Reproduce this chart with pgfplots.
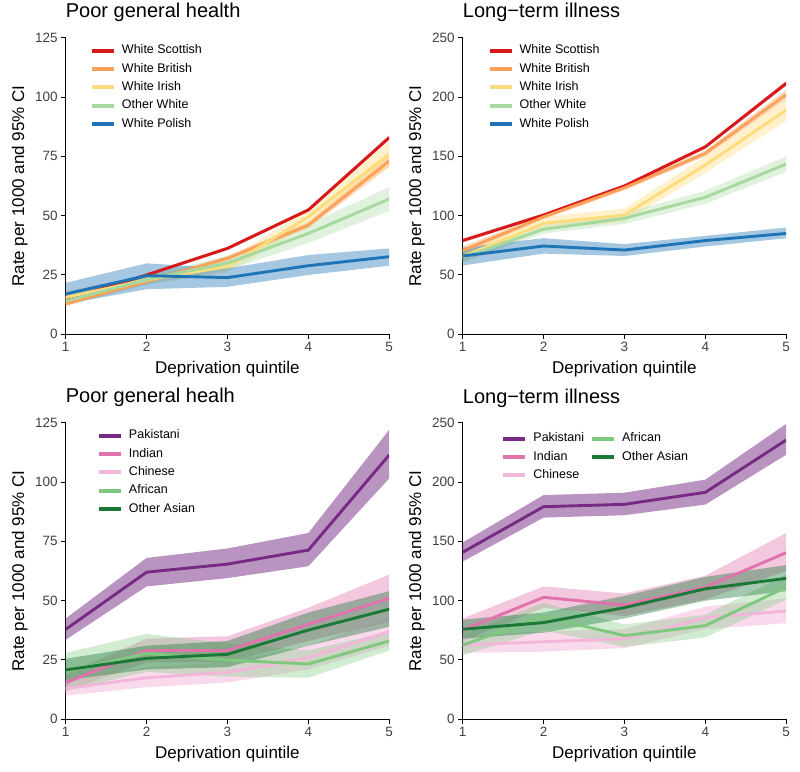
\documentclass[border=0pt]{standalone}
\usepackage{pgfplots}
\pgfplotsset{compat=1.18}
\usepackage{pgfplotstable}
\usepgfplotslibrary{fillbetween}
\usepackage{fontspec}
\setmainfont{Liberation Sans}

\definecolor{cWS}{HTML}{D7191C}
\definecolor{cWB}{HTML}{FDA05A}
\definecolor{cWI}{HTML}{FEDC7C}
\definecolor{cOW}{HTML}{A6D99E}
\definecolor{cWP}{HTML}{1F74B6}
\definecolor{cPak}{HTML}{762A83}
\definecolor{cInd}{HTML}{E072AC}
\definecolor{cChi}{HTML}{F1B6DA}
\definecolor{cAfr}{HTML}{7FC97F}
\definecolor{cOA}{HTML}{1B7837}

% x y lo hi
\pgfplotstableread{
x y lo hi
1 14.5 13.8 15.2
2 25.0 24.3 25.7
3 36.2 35.5 36.9
4 52.4 51.6 53.2
5 82.9 81.9 83.9
}\aWS
\pgfplotstableread{
x y lo hi
1 12.8 12.0 13.6
2 22.2 21.5 23.0
3 32.0 31.0 33.0
4 46.0 44.8 47.5
5 73.0 70.5 75.5
}\aWB
\pgfplotstableread{
x y lo hi
1 15.5 13.0 18.0
2 23.0 21.0 25.0
3 28.5 26.0 31.0
4 49.5 46.0 53.0
5 76.0 71.0 81.0
}\aWI
\pgfplotstableread{
x y lo hi
1 14.0 12.0 16.0
2 23.0 21.0 25.0
3 30.0 27.0 33.0
4 42.5 38.5 46.5
5 57.0 52.0 62.0
}\aOW
\pgfplotstableread{
x y lo hi
1 17.0 12.8 21.7
2 24.7 19.0 29.9
3 23.9 20.0 27.8
4 28.9 25.0 33.4
5 32.7 28.9 36.2
}\aWP

\pgfplotstableread{
x y lo hi
1 79.0 77.5 80.5
2 100.5 99.0 102.0
3 125.0 123.5 126.5
4 158.0 156.5 159.5
5 211.5 209.5 213.5
}\bWS
\pgfplotstableread{
x y lo hi
1 70.5 67.0 74.0
2 99.0 97.0 101.0
3 123.5 121.5 125.5
4 152.5 150.0 155.0
5 202.0 198.0 206.0
}\bWB
\pgfplotstableread{
x y lo hi
1 65.5 60.0 71.0
2 93.5 88.0 99.0
3 100.5 95.0 106.0
4 142.7 136.0 150.0
5 189.0 180.0 198.0
}\bWI
\pgfplotstableread{
x y lo hi
1 65.0 61.0 69.0
2 88.5 85.0 92.0
3 97.8 93.0 102.0
4 115.5 110.0 121.0
5 143.5 137.0 150.0
}\bOW
\pgfplotstableread{
x y lo hi
1 66.0 58.0 73.0
2 74.4 68.0 81.0
3 71.0 66.0 76.0
4 79.0 74.0 83.0
5 85.0 81.0 90.0
}\bWP

\pgfplotstableread{
x y lo hi
1 37.9 33.5 42.5
2 62.0 56.0 68.0
3 65.4 59.5 72.0
4 71.3 64.5 78.5
5 111.4 101.5 122.0
}\cPakT
\pgfplotstableread{
x y lo hi
1 15.4 12.0 19.0
2 29.0 24.0 34.0
3 29.0 24.0 35.0
4 40.0 33.0 47.0
5 51.0 41.0 61.0
}\cIndT
\pgfplotstableread{
x y lo hi
1 13.0 10.0 16.0
2 17.5 13.5 22.0
3 19.8 15.5 24.0
4 26.0 21.0 31.0
5 37.0 31.0 43.0
}\cChiT
\pgfplotstableread{
x y lo hi
1 20.0 12.0 28.0
2 27.8 20.0 36.0
3 25.0 18.0 32.0
4 23.3 17.5 29.0
5 33.0 29.0 37.0
}\cAfrT
\pgfplotstableread{
x y lo hi
1 20.8 16.5 25.5
2 25.7 21.0 31.0
3 27.4 22.0 33.0
4 37.6 31.0 45.0
5 46.4 39.0 54.0
}\cOAT

\pgfplotstableread{
x y lo hi
1 140.8 133.0 149.0
2 179.2 170.0 189.0
3 181.2 172.0 191.0
4 191.3 181.0 202.0
5 235.4 223.0 249.0
}\dPakT
\pgfplotstableread{
x y lo hi
1 75.3 66.0 85.0
2 102.8 94.0 112.0
3 96.3 87.0 106.0
4 111.3 101.0 121.0
5 140.4 125.0 157.0
}\dIndT
\pgfplotstableread{
x y lo hi
1 62.6 56.0 70.0
2 65.4 57.0 74.0
3 67.7 60.0 76.0
4 85.6 76.0 95.0
5 91.3 81.0 102.0
}\dChiT
\pgfplotstableread{
x y lo hi
1 62.6 54.0 72.0
2 86.5 75.0 98.0
3 70.5 61.0 80.0
4 79.0 69.0 88.0
5 111.3 101.0 122.0
}\dAfrT
\pgfplotstableread{
x y lo hi
1 75.9 68.0 84.0
2 81.5 73.0 90.0
3 94.1 85.0 104.0
4 110.0 100.0 120.0
5 118.8 108.0 130.0
}\dOAT

% band: table, colour, opacity, id
\newcommand{\band}[4]{%
  \addplot[draw=none, name path=lo#4, forget plot] table[x=x,y=lo]{#1};
  \addplot[draw=none, name path=hi#4, forget plot] table[x=x,y=hi]{#1};
  \addplot[fill=#2, fill opacity=#3, draw=none, forget plot] fill between[of=lo#4 and hi#4];
}
\newcommand{\mline}[2]{%
  \addplot[#2, line width=2.9pt, forget plot] table[x=x,y=y]{#1};
}

\pgfplotsset{
  panel/.style={
    scale only axis, width=323.5pt, height=296.6pt,
    xmin=1, xmax=5, xtick={1,2,3,4,5}, ymin=0,
    axis x line*=bottom, axis y line*=left,
    xtick pos=left, ytick pos=left,
    axis line style={black, line width=1.3pt},
    tick style={black, line width=1pt},
    tick align=outside, major tick length=4.5pt,
    ticklabel style={font=\fontsize{13.5}{16}\selectfont, text=black!75},
    /pgf/number format/assume math mode=true,
    xlabel={Deprivation quintile},
    ylabel={Rate per 1000 and 95\% CI},
    label style={font=\fontsize{17}{20}\selectfont},
    xlabel style={at={(axis description cs:0.5,0)}, anchor=base, yshift=-39pt},
    ylabel style={at={(axis description cs:-0.142,0.5)}, anchor=center},
    title style={at={(axis description cs:0,1)}, anchor=base west, yshift=13.7pt, font=\fontsize{20}{24}\selectfont, inner sep=0pt},
    legend cell align=left,
    legend style={draw=none, fill=none, anchor=north west, inner sep=0pt, outer sep=0pt,
      font=\fontsize{12.5}{15}\selectfont, row sep=6.3pt, column sep=6pt,
      nodes={inner sep=0pt, text height=9pt, text depth=3pt}},
    legend image code/.code={\draw[##1, line width=4pt] (0pt,0pt) -- (22pt,0pt);},
  }
}

\begin{document}
\begin{tikzpicture}
\path (0,0) rectangle (800pt,771pt);

% ---------- top left ----------
\begin{axis}[panel, at={(65.7pt,436.7pt)}, anchor=south west,
  ymax=125, ytick={0,25,50,75,100,125},
  title={Poor general health},
  legend style={at={(rel axis cs:0.0751,0.976)}}]
\band{\aWS}{cWS}{0.35}{1}
\band{\aWB}{cWB}{0.4}{2}
\band{\aWI}{cWI}{0.4}{3}
\band{\aOW}{cOW}{0.35}{4}
\band{\aWP}{cWP}{0.4}{5}
\mline{\aWS}{cWS}
\mline{\aWB}{cWB}
\mline{\aWI}{cWI}
\mline{\aOW}{cOW}
\mline{\aWP}{cWP}
\addlegendimage{cWS}\addlegendentry{White Scottish}
\addlegendimage{cWB}\addlegendentry{White British}
\addlegendimage{cWI}\addlegendentry{White Irish}
\addlegendimage{cOW}\addlegendentry{Other White}
\addlegendimage{cWP}\addlegendentry{White Polish}
\end{axis}

% ---------- top right ----------
\begin{axis}[panel, at={(462.7pt,436.7pt)}, anchor=south west,
  ymax=250, ytick={0,50,100,150,200,250},
  title={Long−term illness},
  legend style={at={(rel axis cs:0.0771,0.976)}}]
\band{\bWS}{cWS}{0.35}{1}
\band{\bWB}{cWB}{0.4}{2}
\band{\bWI}{cWI}{0.4}{3}
\band{\bOW}{cOW}{0.35}{4}
\band{\bWP}{cWP}{0.4}{5}
\mline{\bWS}{cWS}
\mline{\bWB}{cWB}
\mline{\bWI}{cWI}
\mline{\bOW}{cOW}
\mline{\bWP}{cWP}
\addlegendimage{cWS}\addlegendentry{White Scottish}
\addlegendimage{cWB}\addlegendentry{White British}
\addlegendimage{cWI}\addlegendentry{White Irish}
\addlegendimage{cOW}\addlegendentry{Other White}
\addlegendimage{cWP}\addlegendentry{White Polish}
\end{axis}

% ---------- bottom left ----------
\begin{axis}[panel, at={(65.7pt,51.7pt)}, anchor=south west,
  ymax=125, ytick={0,25,50,75,100,125},
  title={Poor general healh},
  legend style={at={(rel axis cs:0.0967,0.976)}}]
\band{\cPakT}{cPak}{0.5}{1}
\band{\cIndT}{cInd}{0.4}{2}
\band{\cChiT}{cChi}{0.5}{3}
\band{\cAfrT}{cAfr}{0.35}{4}
\band{\cOAT}{cOA}{0.4}{5}
\mline{\cPakT}{cPak}
\mline{\cIndT}{cInd}
\mline{\cChiT}{cChi}
\mline{\cAfrT}{cAfr}
\mline{\cOAT}{cOA}
\addlegendimage{cPak}\addlegendentry{Pakistani}
\addlegendimage{cInd}\addlegendentry{Indian}
\addlegendimage{cChi}\addlegendentry{Chinese}
\addlegendimage{cAfr}\addlegendentry{African}
\addlegendimage{cOA}\addlegendentry{Other Asian}
\end{axis}

% ---------- bottom right ----------
\begin{axis}[panel, at={(462.7pt,51.7pt)}, anchor=south west,
  ymax=250, ytick={0,50,100,150,200,250},
  title={Long−term illness},
  legend columns=2,
  legend style={at={(rel axis cs:0.1197,0.966)}}]
\band{\dPakT}{cPak}{0.5}{1}
\band{\dIndT}{cInd}{0.4}{2}
\band{\dChiT}{cChi}{0.5}{3}
\band{\dAfrT}{cAfr}{0.35}{4}
\band{\dOAT}{cOA}{0.4}{5}
\mline{\dPakT}{cPak}
\mline{\dIndT}{cInd}
\mline{\dChiT}{cChi}
\mline{\dAfrT}{cAfr}
\mline{\dOAT}{cOA}
\addlegendimage{cPak}\addlegendentry{Pakistani}
\addlegendimage{cAfr}\addlegendentry{African}
\addlegendimage{cInd}\addlegendentry{Indian}
\addlegendimage{cOA}\addlegendentry{Other Asian}
\addlegendimage{cChi}\addlegendentry{Chinese}
\end{axis}
\end{tikzpicture}
\end{document}
